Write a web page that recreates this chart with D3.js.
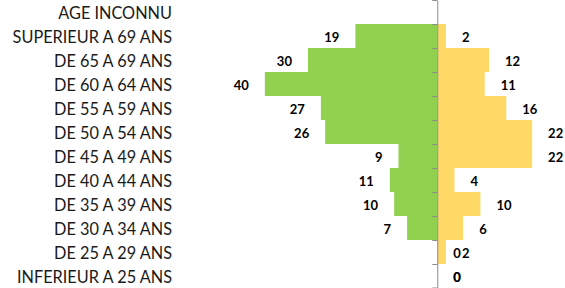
<!DOCTYPE html>
<html><head><meta charset="utf-8">
<script src="https://cdn.jsdelivr.net/npm/d3@7"></script>
<style>html,body{margin:0;padding:0;background:#fff;}svg{display:block;}</style>
</head><body>
<svg id="c" width="565" height="288"></svg>
<script>
const categories = ["AGE INCONNU","SUPERIEUR A 69 ANS","DE 65 A 69 ANS","DE 60 A 64 ANS","DE 55 A 59 ANS","DE 50 A 54 ANS","DE 45 A 49 ANS","DE 40 A 44 ANS","DE 35 A 39 ANS","DE 30 A 34 ANS","DE 25 A 29 ANS","INFERIEUR A 25 ANS"];
const leftValues = [null,19,30,40,27,26,9,11,10,7,0,0];
const rightValues = [null,2,12,11,16,22,22,4,10,6,2,0];

const svg = d3.select("#c");
const x = d3.scaleLinear().domain([-45,30]).range([243.3,566.6]);
const y = d3.scaleBand().domain(categories).range([0,288]).padding(0);
const green = "#92D050", yellow = "#FFD966";

const series = [
  {vals: leftValues.map(v => v==null?null:-v), color: green},
  {vals: rightValues, color: yellow}
];

series.forEach(s => {
  svg.append("g").selectAll("rect")
    .data(categories.map((c,i)=>({c, v:s.vals[i]})).filter(d=>d.v!=null))
    .join("rect")
    .attr("x", d => Math.min(x(0), x(d.v)))
    .attr("y", d => y(d.c))
    .attr("width", d => Math.abs(x(d.v)-x(0)))
    .attr("height", y.bandwidth())
    .attr("fill", s.color);
});

// axis
const ax = d3.axisLeft(y).tickSize(5).tickSizeOuter(0).tickFormat("");
const axG = svg.append("g").attr("transform", `translate(${x(0)},0)`).call(ax);
axG.select(".domain").attr("stroke","#8c8c8c");
// ticks at band boundaries
axG.selectAll(".tick").remove();
const bounds = categories.map(c => y(c)).concat([288]);
axG.selectAll("line.b").data(bounds).join("line")
  .attr("x1",-5).attr("x2",0).attr("y1",d=>Math.min(d,287.5)+0.5).attr("y2",d=>Math.min(d,287.5)+0.5)
  .attr("stroke","#8c8c8c");

// category labels
svg.append("g").selectAll("text").data(categories).join("text")
  .attr("x",172).attr("y", d => y(d)+y.bandwidth()/2+1)
  .attr("dy","0.35em").attr("text-anchor","end")
  .attr("font-family","Lato, 'Open Sans', sans-serif").attr("font-size",16.3)
  .attr("fill","#1a1a1a").text(d=>d);

// value labels
series.forEach(s => {
  svg.append("g").selectAll("text")
    .data(categories.map((c,i)=>({c, v:s.vals[i]})).filter(d=>d.v!=null))
    .join("text")
    .attr("x", d => d.v<0 ? x(d.v)-16 : x(d.v)+16)
    .attr("y", d => y(d.c)+y.bandwidth()/2+1)
    .attr("dy","0.35em")
    .attr("text-anchor", d => d.v<0 ? "end" : "start")
    .attr("font-family","Lato, 'Open Sans', sans-serif").attr("font-weight","bold").attr("font-size",13)
    .attr("fill","#000").text(d => Math.abs(d.v));
});
</script>
</body></html>
